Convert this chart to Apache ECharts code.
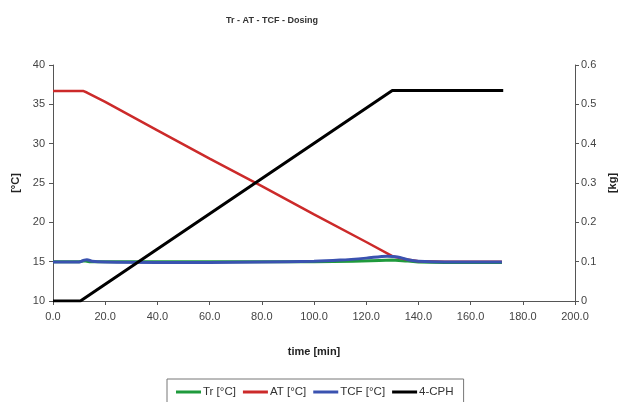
<!DOCTYPE html>
<html>
<head>
<meta charset="utf-8">
<script src="https://cdn.jsdelivr.net/npm/echarts@6/dist/echarts.min.js"></script>
<style>
html,body{margin:0;padding:0;background:#fff;}
#c{width:618px;height:402px;}
</style>
</head>
<body>
<div id="c"></div>
<script>
var xTicks = [0, 20, 40, 60, 80, 100, 120, 140, 160, 180, 200];

var trTime = [0, 10, 12, 14, 20, 40, 60, 80, 100, 115, 125, 130, 135, 140, 150, 160, 172];
var trVals = [15.0, 15.0, 15.1, 15.0, 15.0, 15.0, 15.0, 15.0, 15.0, 15.05, 15.15, 15.2, 15.1, 14.95, 14.9, 14.9, 14.9];

var atTime = [0, 11.5, 13, 20, 40, 60, 80, 100, 120, 130, 135, 140, 150, 160, 172];
var atVals = [36.7, 36.7, 36.5, 35.3, 31.7, 28.1, 24.6, 21.0, 17.5, 15.7, 15.3, 15.05, 15.0, 15.0, 15.0];

var tcfTime = [0, 10, 12, 13, 15, 20, 40, 60, 80, 100, 110, 120, 128, 132, 136, 140, 150, 160, 172];
var tcfVals = [14.95, 14.95, 15.2, 15.25, 15.05, 14.95, 14.9, 14.9, 14.95, 15.05, 15.2, 15.45, 15.7, 15.6, 15.25, 15.05, 14.95, 14.95, 14.95];

var cphTime = [0, 10.5, 130, 172.5];
var cphVals = [0, 0, 0.535, 0.535];

function pairs(t, v) { return t.map(function (x, i) { return [x, v[i]]; }); }

var chart = echarts.init(document.getElementById('c'));
var axisTxt = { color: '#444', fontFamily: 'Liberation Sans', fontSize: 11 };
chart.setOption({
  backgroundColor: '#fff',
  animation: false,
  title: {
    text: 'Tr - AT - TCF - Dosing',
    left: 267, top: 11, textAlign: 'center',
    textStyle: { fontFamily: 'Liberation Sans', fontSize: 9, fontWeight: 'bold', color: '#333' }
  },
  grid: { left: 53, right: 43, top: 65, bottom: 101, containLabel: false, outerBoundsMode: 'none' },
  legend: {
    data: ['Tr [°C]', 'AT [°C]', 'TCF [°C]', '4-CPH'],
    left: 167, top: 379,
    icon: 'rect', itemWidth: 25, itemHeight: 3, itemGap: 7,
    borderColor: '#777', borderWidth: 1, borderRadius: 0,
    padding: [7, 10, 20, 9],
    textStyle: { fontFamily: 'Liberation Sans', fontSize: 11.5, color: '#333', padding: [0, 0, 0, -3] }
  },
  xAxis: {
    type: 'value', min: 0, max: 200, interval: 20,
    name: 'time [min]', nameLocation: 'middle', nameGap: 45,
    nameTextStyle: { fontFamily: 'Liberation Sans', fontSize: 11, fontWeight: 'bold', color: '#222' },
    axisLine: { lineStyle: { color: '#555', width: 1 } },
    axisTick: { show: true, length: 4, lineStyle: { color: '#555' } },
    axisLabel: Object.assign({ margin: 10, formatter: function (v) { return v.toFixed(1); } }, axisTxt),
    splitLine: { show: false }
  },
  yAxis: [{
    type: 'value', min: 10, max: 40, interval: 5,
    name: '[°C]', nameLocation: 'middle', nameGap: 27, nameRotate: 90,
    nameTextStyle: { fontFamily: 'Liberation Sans', fontSize: 11, fontWeight: 'bold', color: '#222' },
    axisLine: { show: true, onZero: false, lineStyle: { color: '#555', width: 1 } },
    axisTick: { show: true, length: 4, lineStyle: { color: '#555' } },
    axisLabel: Object.assign({ margin: 8 }, axisTxt),
    splitLine: { show: false }
  }, {
    type: 'value', min: 0, max: 0.6, interval: 0.1,
    name: '[kg]', nameLocation: 'middle', nameGap: 25, nameRotate: 90,
    nameTextStyle: { fontFamily: 'Liberation Sans', fontSize: 11, fontWeight: 'bold', color: '#222' },
    axisLine: { show: true, onZero: false, lineStyle: { color: '#555', width: 1 } },
    axisTick: { show: true, length: 4, inside: false, lineStyle: { color: '#555' } },
    axisLabel: Object.assign({ margin: 6, formatter: function (v) { return v === 0 ? '0' : v.toFixed(1); } }, axisTxt),
    splitLine: { show: false }
  }],
  series: [{
    name: 'Tr [°C]', type: 'line', yAxisIndex: 0, showSymbol: false, symbol: 'none',
    data: pairs(trTime, trVals),
    lineStyle: { color: '#1f9a3c', width: 3 }, itemStyle: { color: '#1f9a3c' }
  }, {
    name: 'AT [°C]', type: 'line', yAxisIndex: 0, showSymbol: false, symbol: 'none',
    data: pairs(atTime, atVals),
    lineStyle: { color: '#cc2a2a', width: 2.5 }, itemStyle: { color: '#cc2a2a' }
  }, {
    name: 'TCF [°C]', type: 'line', yAxisIndex: 0, showSymbol: false, symbol: 'none', smooth: 0.3,
    data: pairs(tcfTime, tcfVals),
    lineStyle: { color: '#3a52b0', width: 3 }, itemStyle: { color: '#3a52b0' }
  }, {
    name: '4-CPH', type: 'line', yAxisIndex: 1, showSymbol: false, symbol: 'none',
    data: pairs(cphTime, cphVals),
    lineStyle: { color: '#000', width: 3 }, itemStyle: { color: '#000' }
  }]
});
</script>
</body>
</html>
